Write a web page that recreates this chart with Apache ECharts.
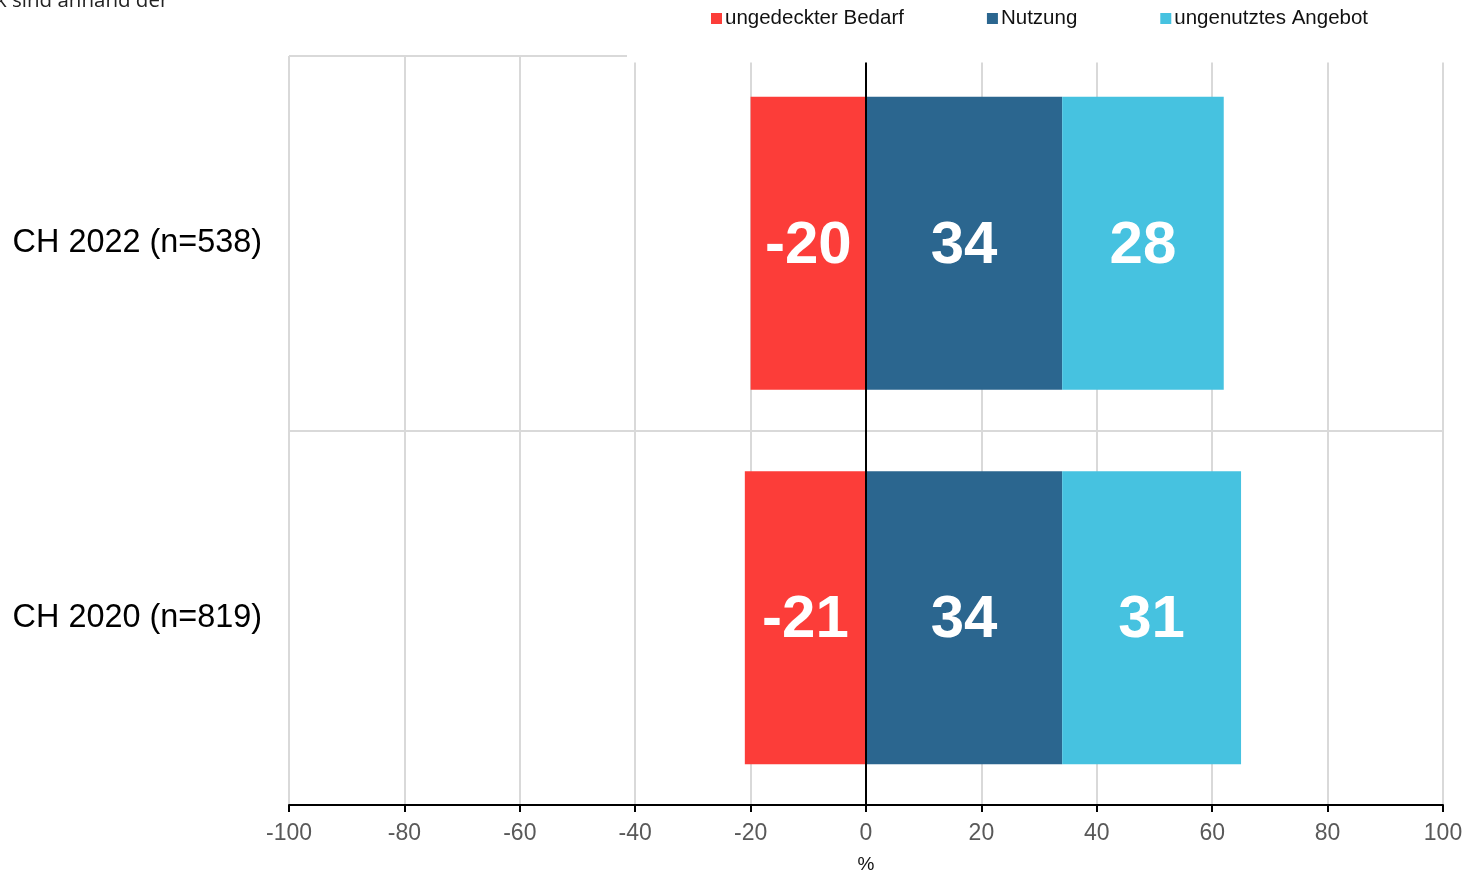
<!DOCTYPE html>
<html>
<head>
<meta charset="utf-8">
<script src="https://cdn.jsdelivr.net/npm/echarts@6/dist/echarts.min.js"></script>
<style>
  html, body { margin: 0; padding: 0; background: #ffffff; }
  #chart { width: 1466px; height: 873px; }
</style>
</head>
<body>
<div id="chart"></div>
<script>
// Survey groups, top to bottom
const categories = ['CH 2022 (n=538)', 'CH 2020 (n=819)'];
// Shares in percent per group
const unmetNeed = [-20, -21];
const usage = [34, 34];
const unusedOffer = [28, 31];
const seriesNames = ['ungedeckter Bedarf', 'Nutzung', 'ungenutztes Angebot'];
const seriesColors = ['#FC3D39', '#2B668F', '#46C2E0'];
// Value axis ticks
const xMin = -100, xMax = 100, xStep = 20;

const chart = echarts.init(document.getElementById('chart'), null, { renderer: 'canvas' });

const barLabel = {
  show: true,
  position: 'inside',
  offset: [0, 3],
  color: '#ffffff',
  fontFamily: '"Liberation Sans", Arial, sans-serif',
  fontWeight: 'bold',
  fontSize: 60,
  formatter: p => String(p.value)
};

function makeSeries(idx, values, extra) {
  return Object.assign({
    name: seriesNames[idx],
    type: 'bar',
    stack: 'total',
    barWidth: 293,
    data: values,
    itemStyle: { color: seriesColors[idx] },
    label: barLabel,
    emphasis: { disabled: true }
  }, extra || {});
}

chart.setOption({
  animation: false,
  backgroundColor: '#ffffff',
  textStyle: { fontFamily: '"Liberation Sans", Arial, sans-serif' },
  legend: {
    left: 706,
    top: 3,
    itemWidth: 11,
    itemHeight: 11,
    itemGap: 83,
    icon: 'rect',
    selectedMode: false,
    textStyle: { fontSize: 20.5, color: '#111111', padding: [0, 0, 0, -2] },
    data: seriesNames
  },
  grid: { left: 289, right: 23, top: 56, bottom: 68, containLabel: false, outerBoundsMode: 'none' },
  xAxis: {
    type: 'value',
    min: xMin,
    max: xMax,
    interval: xStep,
    name: '%',
    nameLocation: 'middle',
    nameGap: 50,
    nameTextStyle: { fontSize: 19, color: '#111111' },
    axisLine: { show: true, onZero: false, lineStyle: { color: '#000000', width: 2 } },
    axisTick: { show: true, length: 7, lineStyle: { color: '#000000', width: 2 } },
    axisLabel: { fontSize: 23, color: '#595959', margin: 17 },
    splitLine: { show: true, lineStyle: { color: '#D9D9D9', width: 2 } }
  },
  yAxis: {
    type: 'category',
    inverse: true,
    data: categories,
    axisLine: { show: false },
    axisTick: { show: false },
    axisLabel: { fontSize: 32.4, color: '#000000', margin: 27 },
    splitLine: { show: true, lineStyle: { color: '#D9D9D9', width: 2 } }
  },
  series: [
    makeSeries(0, unmetNeed, {
      markLine: {
        silent: true,
        symbol: 'none',
        label: { show: false },
        lineStyle: { color: '#000000', width: 2, type: 'solid' },
        data: [{ xAxis: 0 }]
      }
    }),
    makeSeries(1, usage),
    makeSeries(2, unusedOffer)
  ],
  graphic: [
    {
      type: 'rect',
      z: 100,
      shape: { x: 627, y: 54, width: 839, height: 8.5 },
      style: { fill: '#ffffff' }
    },
    {
      type: 'text',
      z: 100,
      style: {
        x: -4,
        y: 1,
        text: 'k sind anhand der',
        fontSize: 20.5,
        fontFamily: '"Open Sans", sans-serif',
        fill: '#222222',
        verticalAlign: 'middle'
      }
    }
  ]
});
</script>
</body>
</html>
